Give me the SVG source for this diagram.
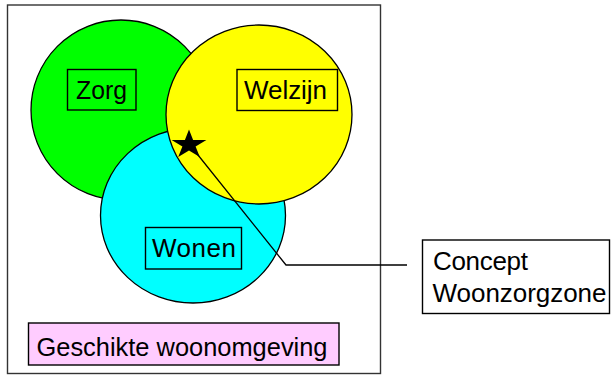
<svg xmlns="http://www.w3.org/2000/svg" width="611" height="376" viewBox="0 0 611 376">
  <style>
    .ring { stroke: #000; stroke-width: 1.3; }
    .tag { fill: none; stroke: #000; stroke-width: 1.4; }
    .lbl { font-family: "Liberation Sans", Arial, sans-serif; font-size: 26px; fill: #000; }
    .wire { fill: none; stroke: #000; stroke-width: 1.3; }
  </style>

  <rect width="611" height="376" fill="#fff"/>

  <!-- surrounding frame -->
  <g id="frame">
    <rect x="7.5" y="5" width="373" height="368.5" fill="none" stroke="#333" stroke-width="1.4"/>
  </g>

  <!-- Zorg (care) -->
  <g id="zorg">
    <ellipse class="ring" cx="121" cy="110" rx="90" ry="90" fill="#00ff00"/>
  </g>

  <!-- Wonen (housing) -->
  <g id="wonen">
    <ellipse class="ring" cx="193" cy="215.5" rx="92.5" ry="87.5" fill="#00ffff"/>
  </g>

  <!-- Welzijn (welfare) -->
  <g id="welzijn">
    <ellipse class="ring" cx="259" cy="114.5" rx="93" ry="89.5" fill="#ffff00"/>
  </g>

  <g id="zorg-label">
    <rect class="tag" x="67.5" y="69.5" width="68.5" height="40.5"/>
    <text class="lbl" x="76" y="99" textLength="51" lengthAdjust="spacingAndGlyphs">Zorg</text>
  </g>

  <g id="welzijn-label">
    <rect class="tag" x="237" y="69.5" width="100.5" height="41"/>
    <text class="lbl" x="244" y="99" textLength="83" lengthAdjust="spacing">Welzijn</text>
  </g>

  <g id="wonen-label">
    <rect class="tag" x="145.5" y="227.5" width="96" height="41.5"/>
    <text class="lbl" x="152" y="256.5" textLength="84" lengthAdjust="spacing">Wonen</text>
  </g>

  <!-- environment label -->
  <g id="omgeving">
    <rect x="28.5" y="323" width="310.5" height="42" fill="#ffccff" stroke="#000" stroke-width="1.4"/>
    <text class="lbl" x="36.5" y="355.5" font-size="27" textLength="291" lengthAdjust="spacingAndGlyphs">Geschikte woonomgeving</text>
  </g>

  <!-- callout connector -->
  <g id="connectors">
    <polyline class="wire" points="190,145 286,265 407,265"/>
  </g>

  <!-- star marking the overlap -->
  <g id="star">
    <polygon fill="#000" points="189,129.5 193.1,140 206.4,140 195.6,146.5 199.8,157 189,150.5 178.2,157 182.4,146.5 171.6,140 184.9,140"/>
  </g>

  <!-- callout box -->
  <g id="concept">
    <rect x="422.5" y="240" width="187" height="73.5" fill="#fff" stroke="#000" stroke-width="1.4"/>
    <text class="lbl" x="433" y="270" textLength="95" lengthAdjust="spacing">Concept</text>
    <text class="lbl" x="432.5" y="301.5" textLength="174" lengthAdjust="spacing">Woonzorgzone</text>
  </g>
</svg>
